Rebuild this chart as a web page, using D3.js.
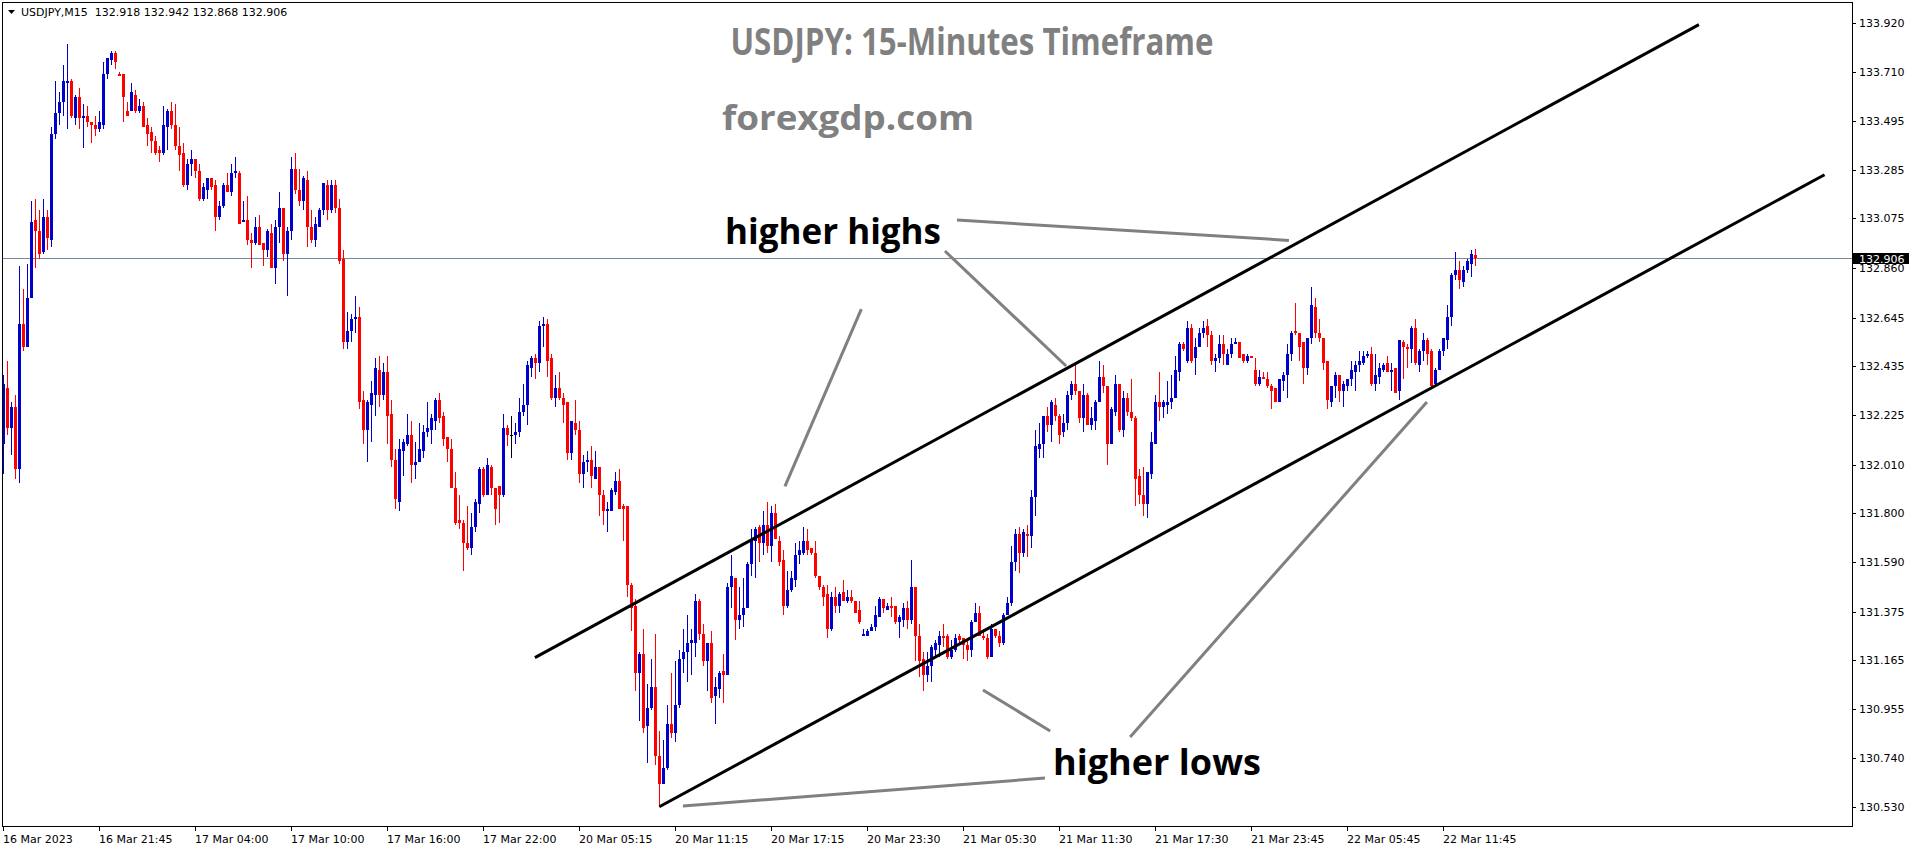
<!DOCTYPE html>
<html><head><meta charset="utf-8">
<script src="https://cdn.jsdelivr.net/npm/d3@7/dist/d3.min.js"></script>
<style>html,body{margin:0;padding:0;background:#fff;overflow:hidden}</style>
</head><body>
<svg id="chart" width="1916" height="850"></svg>
<script>
// ---------- DATA (USDJPY M15) ----------
const opens = [132.10,132.34,132.17,132.26,131.99,132.62,132.52,132.73,133.07,133.02,132.93,133.08,132.98,133.44,133.53,133.58,133.66,133.67,133.51,133.60,
133.51,133.52,133.49,133.48,133.46,133.48,133.70,133.76,133.79,133.70,133.70,133.54,133.54,133.61,133.54,133.56,133.48,133.45,133.41,133.37,
133.36,133.47,133.54,133.48,133.39,133.36,133.22,133.31,133.33,133.28,133.16,133.20,133.25,133.22,133.08,133.13,133.22,133.19,133.27,133.27,
133.06,133.07,132.98,132.97,133.04,132.97,132.94,133.01,132.86,133.04,133.12,132.92,133.02,133.29,133.20,133.15,133.24,133.04,132.98,133.04,
133.11,133.22,133.11,133.22,133.12,132.90,132.54,132.59,132.64,132.65,132.29,132.16,132.27,132.31,132.42,132.31,132.41,132.23,132.03,131.85,
132.07,132.10,132.14,132.01,132.02,132.07,132.15,132.16,132.20,132.29,132.22,132.13,132.08,131.91,131.77,131.76,131.67,131.65,131.74,131.84,
131.99,131.88,132.00,131.91,131.92,131.88,132.17,132.14,132.14,132.15,132.24,132.27,132.43,132.47,132.45,132.61,132.62,132.47,132.30,132.34,
132.30,132.28,132.06,132.19,132.16,131.97,132.02,132.03,131.95,132.00,131.88,131.81,131.81,131.89,131.94,131.83,131.83,131.49,131.40,131.11,
131.19,130.88,130.96,131.05,130.75,130.63,130.70,130.89,130.85,130.97,131.17,131.20,131.24,131.24,131.42,131.28,131.16,131.24,131.01,131.04,
131.12,131.10,131.48,131.52,131.34,131.36,131.39,131.58,131.68,131.74,131.67,131.75,131.66,131.80,131.68,131.60,131.40,131.47,131.51,131.62,
131.63,131.68,131.65,131.63,131.53,131.48,131.45,131.30,131.44,131.40,131.46,131.42,131.44,131.42,131.38,131.27,131.27,131.29,131.31,131.35,
131.43,131.38,131.40,131.40,131.33,131.34,131.39,131.34,131.48,131.27,131.17,131.10,131.14,131.21,131.23,131.27,131.27,131.18,131.21,131.27,
131.26,131.23,131.21,131.33,131.37,131.27,131.26,131.18,131.30,131.27,131.24,131.36,131.41,131.59,131.71,131.63,131.71,131.70,131.87,132.08,
132.10,132.22,132.18,132.27,132.22,132.15,132.19,132.31,132.36,132.33,132.21,132.31,132.18,132.20,132.28,132.39,132.35,132.10,132.24,132.36,
132.16,132.30,132.24,132.21,131.96,131.88,131.84,131.97,132.10,132.28,132.26,132.27,132.28,132.30,132.41,132.53,132.46,132.60,132.47,132.52,
132.58,132.61,132.57,132.46,132.47,132.53,132.44,132.49,132.53,132.54,132.49,132.46,132.48,132.42,132.36,132.39,132.38,132.35,132.34,132.28,
132.37,132.40,132.49,132.59,132.58,132.54,132.43,132.56,132.69,132.58,132.56,132.46,132.28,132.35,132.40,132.33,132.35,132.38,132.41,132.44,
132.45,132.48,132.49,132.36,132.39,132.42,132.45,132.41,132.43,132.33,132.54,132.52,132.51,132.60,132.44,132.50,132.55,132.50,132.36,132.42,
132.50,132.55,132.65,132.83,132.85,132.80,132.85,132.88,132.918];
const highs = [132.40,132.46,132.28,132.31,132.87,132.77,132.88,133.15,133.16,133.11,133.16,133.11,133.47,133.67,133.62,133.74,133.83,133.68,133.61,133.64,
133.57,133.56,133.49,133.52,133.54,133.75,133.77,133.80,133.80,133.71,133.70,133.58,133.66,133.63,133.59,133.58,133.51,133.47,133.43,133.39,
133.56,133.55,133.58,133.57,133.47,133.40,133.33,133.37,133.33,133.31,133.23,133.25,133.25,133.24,133.15,133.23,133.27,133.31,133.34,133.28,
133.15,133.17,133.01,133.08,133.09,132.97,133.03,133.05,133.07,133.19,133.12,133.04,133.34,133.36,133.29,133.26,133.28,133.11,133.08,133.12,
133.23,133.24,133.24,133.24,133.16,132.94,132.67,132.66,132.74,132.69,132.33,132.29,132.37,132.47,132.48,132.45,132.48,132.29,132.08,132.12,
132.12,132.23,132.20,132.11,132.19,132.18,132.28,132.23,132.30,132.32,132.24,132.13,132.12,131.98,131.88,131.77,131.83,131.80,131.86,132.00,
132.00,132.04,132.01,131.91,131.92,132.23,132.18,132.22,132.19,132.30,132.36,132.46,132.48,132.49,132.63,132.65,132.64,132.49,132.40,132.41,
132.32,132.28,132.20,132.29,132.20,132.05,132.07,132.09,132.07,132.00,131.90,131.85,131.91,131.98,131.99,131.84,131.83,131.50,131.43,131.20,
131.30,131.06,131.17,131.28,130.86,130.82,130.97,131.11,131.16,131.21,131.30,131.36,131.30,131.45,131.43,131.32,131.24,131.29,131.09,131.12,
131.19,131.50,131.62,131.52,131.48,131.52,131.59,131.73,131.74,131.75,131.81,131.85,131.83,131.84,131.70,131.64,131.55,131.55,131.67,131.68,
131.74,131.73,131.65,131.68,131.53,131.49,131.49,131.46,131.48,131.46,131.51,131.47,131.47,131.42,131.42,131.30,131.30,131.32,131.40,131.44,
131.43,131.41,131.44,131.40,131.36,131.41,131.42,131.60,131.48,131.32,131.20,131.20,131.23,131.25,131.29,131.32,131.28,131.25,131.28,131.28,
131.26,131.25,131.34,131.41,131.40,131.30,131.28,131.32,131.30,131.29,131.37,131.44,131.66,131.73,131.74,131.73,131.75,131.90,132.16,132.19,
132.22,132.26,132.29,132.30,132.23,132.23,132.33,132.37,132.44,132.33,132.36,132.32,132.26,132.29,132.46,132.44,132.35,132.26,132.40,132.36,
132.33,132.32,132.38,132.22,131.99,132.00,131.98,132.15,132.31,132.41,132.29,132.37,132.40,132.48,132.54,132.54,132.63,132.62,132.56,132.60,
132.63,132.64,132.59,132.49,132.57,132.57,132.51,132.56,132.56,132.54,132.49,132.49,132.48,132.47,132.42,132.41,132.41,132.36,132.34,132.38,
132.41,132.53,132.59,132.71,132.58,132.54,132.56,132.78,132.73,132.64,132.56,132.46,132.35,132.41,132.40,132.37,132.38,132.46,132.46,132.50,
132.50,132.50,132.52,132.49,132.45,132.45,132.48,132.45,132.43,132.55,132.55,132.53,132.61,132.64,132.51,132.58,132.56,132.51,132.43,132.51,
132.56,132.70,132.84,132.93,132.89,132.87,132.90,132.94,132.942];
const lows = [131.97,132.14,132.05,131.95,131.93,132.50,132.52,132.73,132.86,132.90,132.92,132.94,132.95,133.42,133.48,133.52,133.46,133.51,133.48,133.46,
133.38,133.47,133.40,133.43,133.45,133.46,133.68,133.74,133.72,133.69,133.49,133.52,133.54,133.53,133.53,133.47,133.39,133.36,133.35,133.32,
133.35,133.37,133.46,133.37,133.28,133.21,133.20,133.26,133.25,133.15,133.15,133.16,133.20,133.02,133.07,133.12,133.19,133.17,133.25,133.05,
133.06,132.96,132.86,132.96,132.96,132.87,132.91,132.86,132.79,132.97,132.89,132.74,132.98,133.18,133.13,133.11,132.95,132.97,132.95,133.04,
133.09,133.07,133.10,133.10,132.88,132.51,132.51,132.54,132.58,132.25,132.10,132.02,132.11,132.22,132.26,132.29,132.10,132.00,131.82,131.81,
131.96,132.09,131.93,131.95,132.02,132.04,132.13,132.10,132.16,132.19,132.09,132.02,131.91,131.75,131.73,131.55,131.64,131.62,131.72,131.80,
131.87,131.88,131.88,131.75,131.76,131.87,132.09,132.04,132.10,132.13,132.22,132.18,132.39,132.38,132.41,132.52,132.39,132.29,132.26,132.29,
132.19,132.03,132.03,132.14,131.93,131.91,131.98,131.91,131.95,131.79,131.75,131.72,131.81,131.88,131.82,131.68,131.44,131.29,131.03,130.90,
130.85,130.72,130.95,130.71,130.53,130.63,130.69,130.83,130.81,130.96,131.11,131.07,131.10,131.18,131.25,131.14,131.03,130.98,130.89,131.00,
130.98,131.10,131.39,131.25,131.30,131.31,131.39,131.53,131.52,131.59,131.62,131.63,131.59,131.69,131.57,131.36,131.39,131.46,131.48,131.58,
131.62,131.62,131.62,131.52,131.47,131.40,131.26,131.29,131.37,131.37,131.42,131.41,131.41,131.37,131.32,131.27,131.27,131.29,131.29,131.35,
131.37,131.38,131.35,131.32,131.26,131.31,131.30,131.32,131.16,131.09,131.03,131.07,131.07,131.18,131.18,131.22,131.17,131.17,131.20,131.24,
131.17,131.16,131.18,131.33,131.27,131.25,131.17,131.18,131.26,131.22,131.23,131.36,131.40,131.55,131.54,131.61,131.61,131.65,131.79,132.04,
132.04,132.15,132.11,132.20,132.10,132.13,132.16,132.29,132.31,132.19,132.15,132.18,132.16,132.16,132.28,132.32,132.01,132.10,132.22,132.15,
132.13,132.22,132.20,131.83,131.84,131.79,131.78,131.95,132.10,132.20,132.21,132.23,132.25,132.30,132.37,132.50,132.45,132.45,132.40,132.52,
132.56,132.52,132.44,132.41,132.45,132.44,132.44,132.47,132.53,132.47,132.45,132.45,132.47,132.35,132.35,132.38,132.34,132.25,132.28,132.28,
132.33,132.30,132.46,132.57,132.46,132.36,132.40,132.53,132.56,132.54,132.42,132.25,132.26,132.30,132.28,132.26,132.33,132.35,132.33,132.41,
132.44,132.47,132.35,132.33,132.36,132.41,132.41,132.33,132.32,132.29,132.38,132.43,132.45,132.44,132.41,132.46,132.44,132.34,132.35,132.42,
132.48,132.51,132.61,132.81,132.77,132.78,132.84,132.82,132.868];
const closes = [132.36,132.17,132.26,131.99,132.62,132.52,132.73,133.06,133.02,132.92,133.08,132.99,133.44,133.53,133.58,133.67,133.67,133.52,133.60,133.51,
133.52,133.49,133.48,133.46,133.49,133.70,133.77,133.79,133.75,133.69,133.60,133.52,133.62,133.54,133.56,133.47,133.44,133.41,133.36,133.36,
133.48,133.54,133.48,133.39,133.35,133.22,133.31,133.33,133.28,133.16,133.21,133.25,133.21,133.08,133.13,133.22,133.19,133.27,133.28,133.05,
133.07,132.98,132.97,133.04,132.96,132.94,133.02,132.86,133.04,133.12,132.92,133.02,133.29,133.20,133.15,133.25,133.04,132.98,133.05,133.11,
133.23,133.11,133.22,133.12,132.89,132.54,132.59,132.64,132.65,132.28,132.16,132.28,132.32,132.43,132.31,132.41,132.22,132.03,131.86,132.08,
132.11,132.14,132.01,132.02,132.08,132.15,132.17,132.21,132.29,132.21,132.12,132.08,131.91,131.76,131.76,131.67,131.65,131.74,131.85,131.99,
131.88,132.01,131.91,131.82,131.88,132.17,132.14,132.14,132.15,132.24,132.27,132.44,132.47,132.45,132.61,132.62,132.46,132.30,132.34,132.30,
132.27,132.06,132.20,132.16,131.97,132.02,132.03,131.96,132.00,131.88,131.81,131.82,131.90,131.94,131.82,131.82,131.49,131.39,131.11,131.19,
130.87,130.96,131.05,130.75,130.63,130.70,130.89,130.85,130.97,131.17,131.20,131.24,131.25,131.42,131.28,131.16,131.24,131.00,131.05,131.11,
131.10,131.48,131.53,131.34,131.36,131.39,131.58,131.69,131.73,131.67,131.75,131.66,131.80,131.69,131.59,131.40,131.47,131.52,131.62,131.64,
131.68,131.64,131.63,131.53,131.48,131.44,131.30,131.44,131.40,131.45,131.42,131.44,131.42,131.37,131.33,131.28,131.29,131.31,131.36,131.43,
131.39,131.40,131.39,131.33,131.35,131.39,131.34,131.48,131.27,131.16,131.10,131.14,131.22,131.24,131.27,131.26,131.18,131.21,131.26,131.25,
131.23,131.21,131.33,131.37,131.27,131.26,131.18,131.30,131.27,131.24,131.36,131.41,131.59,131.71,131.63,131.72,131.70,131.87,132.09,132.10,
132.22,132.18,132.28,132.22,132.14,132.19,132.31,132.36,132.33,132.21,132.31,132.18,132.21,132.28,132.39,132.35,132.10,132.25,132.36,132.16,
132.30,132.24,132.21,131.95,131.88,131.84,131.98,132.11,132.28,132.26,132.28,132.28,132.30,132.42,132.53,132.51,132.60,132.46,132.52,132.58,
132.60,132.57,132.46,132.47,132.53,132.49,132.49,132.53,132.54,132.47,132.46,132.48,132.47,132.36,132.39,132.38,132.35,132.33,132.28,132.38,
132.40,132.49,132.58,132.58,132.52,132.43,132.56,132.70,132.58,132.56,132.45,132.29,132.35,132.40,132.33,132.36,132.38,132.42,132.44,132.46,
132.48,132.49,132.36,132.40,132.43,132.44,132.41,132.42,132.32,132.55,132.52,132.51,132.60,132.45,132.50,132.55,132.49,132.35,132.42,132.50,
132.56,132.65,132.83,132.85,132.81,132.85,132.89,132.92,132.906];

// time labels every 24 bars
const timeLabels = ["16 Mar 2023","16 Mar 21:45","17 Mar 04:00","17 Mar 10:00","17 Mar 16:00","17 Mar 22:00",
  "20 Mar 05:15","20 Mar 11:15","20 Mar 17:15","20 Mar 23:30","21 Mar 05:30","21 Mar 11:30","21 Mar 17:30",
  "21 Mar 23:45","22 Mar 05:45","22 Mar 11:45"];
const labelStep = 24;
const priceTicks = ["133.920","133.710","133.495","133.285","133.075","132.860","132.645","132.435","132.225",
  "132.010","131.800","131.590","131.375","131.165","130.955","130.740","130.530"];
const lastPrice = 132.906;
const header = "USDJPY,M15  132.918 132.942 132.868 132.906";

// trend lines drawn on the chart: [barIndex1, price1, barIndex2, price2]
const channelLines = [[132.9,131.176,423.9,133.913],[164.0,130.531,455.3,133.264]];
const pointerLines = [[214.5,132.683,195.4,131.916],[235.4,132.934,265.7,132.437],[238.4,133.068,321.4,132.980],
  [169.9,130.534,260.4,130.655],[244.9,131.036,261.7,130.859],[281.7,130.833,355.9,132.281]];

// ---------- DRAWING ----------
const svg = d3.select("#chart");
const W = 1916, H = 850;
const plot = {left:2, right:1852, top:2, bottom:826};

const x = d3.scaleLinear().domain([0, 460]).range([3.33, 1843.33]);
const y = d3.scaleLinear().domain([130.53, 133.92]).range([807, 23]);

svg.append("rect").attr("width",W).attr("height",H).attr("fill","#fff");

// title texts
svg.append("text").attr("x",972).attr("y",55).attr("text-anchor","middle")
  .attr("font-family","Open Sans").attr("font-weight",700).attr("font-size",38)
  .attr("fill","#808080").attr("textLength",483).attr("lengthAdjust","spacingAndGlyphs")
  .text("USDJPY: 15-Minutes Timeframe");
svg.append("text").attr("x",848).attr("y",130).attr("text-anchor","middle")
  .attr("font-family","Open Sans").attr("font-weight",700).attr("font-size",34)
  .attr("fill","#808080").attr("textLength",252).attr("lengthAdjust","spacingAndGlyphs")
  .text("forexgdp.com");

const clip = svg.append("clipPath").attr("id","plotclip").append("rect")
  .attr("x",plot.left).attr("y",plot.top).attr("width",plot.right-plot.left).attr("height",plot.bottom-plot.top);
const pg = svg.append("g").attr("clip-path","url(#plotclip)");

// last price line
pg.append("line").attr("x1",plot.left).attr("x2",plot.right)
  .attr("y1",Math.round(y(lastPrice))+0.5).attr("y2",Math.round(y(lastPrice))+0.5)
  .attr("stroke","#778899").attr("stroke-width",1);

// candles
const idx = d3.range(closes.length);
const colorOf = i => closes[i] > opens[i] ? "#0000CD" : (closes[i] < opens[i] ? "#FF0000" : "#000000");
pg.selectAll("rect.wick").data(idx).join("rect").attr("class","wick")
  .attr("x", i => Math.round(x(i)))
  .attr("width", 1)
  .attr("y", i => Math.round(y(highs[i])))
  .attr("height", i => Math.max(1, Math.round(y(lows[i])) - Math.round(y(highs[i]))))
  .attr("fill", colorOf);
pg.selectAll("rect.body").data(idx).join("rect").attr("class","body")
  .attr("x", i => Math.round(x(i)) - 1)
  .attr("width", 3)
  .attr("y", i => Math.round(y(Math.max(opens[i],closes[i]))))
  .attr("height", i => Math.max(1, Math.round(y(Math.min(opens[i],closes[i]))) - Math.round(y(Math.max(opens[i],closes[i])))))
  .attr("fill", colorOf);

// channel lines
pg.selectAll("line.chan").data(channelLines).join("line").attr("class","chan")
  .attr("x1", d => x(d[0])).attr("y1", d => y(d[1]))
  .attr("x2", d => x(d[2])).attr("y2", d => y(d[3]))
  .attr("stroke","#000").attr("stroke-width",3);
pg.selectAll("line.ptr").data(pointerLines).join("line").attr("class","ptr")
  .attr("x1", d => x(d[0])).attr("y1", d => y(d[1]))
  .attr("x2", d => x(d[2])).attr("y2", d => y(d[3]))
  .attr("stroke","#808080").attr("stroke-width",3);

// annotation texts
svg.append("text").attr("x",725).attr("y",244)
  .attr("font-family","Open Sans").attr("font-weight",700).attr("font-size",35)
  .attr("fill","#000").attr("textLength",216).attr("lengthAdjust","spacingAndGlyphs")
  .text("higher highs");
svg.append("text").attr("x",1053).attr("y",775)
  .attr("font-family","Open Sans").attr("font-weight",700).attr("font-size",35)
  .attr("fill","#000").attr("textLength",208).attr("lengthAdjust","spacingAndGlyphs")
  .text("higher lows");

// frame
svg.append("rect").attr("x",plot.left+0.5).attr("y",plot.top+0.5)
  .attr("width",plot.right-plot.left).attr("height",plot.bottom-plot.top)
  .attr("fill","none").attr("stroke","#000").attr("stroke-width",1);

// header
svg.append("path").attr("d","M8,10 L15,10 L11.5,14 Z").attr("fill","#000");
svg.append("text").attr("x",21).attr("y",16).attr("font-family","DejaVu Sans").attr("font-size",11)
  .attr("fill","#000").attr("xml:space","preserve").style("white-space","pre").text(header);

// price axis
const ya = svg.append("g").attr("font-family","DejaVu Sans").attr("font-size",11);
priceTicks.forEach(t => {
  const yy = Math.round(y(+t));
  ya.append("line").attr("x1",plot.right).attr("x2",plot.right+4).attr("y1",yy+0.5).attr("y2",yy+0.5).attr("stroke","#000");
  ya.append("text").attr("x",plot.right+7).attr("y",yy+4).attr("fill","#000").text(t);
});
// last price label (drawn over the neighbouring tick label, as in the terminal)
const ly = Math.round(y(lastPrice));
ya.append("rect").attr("x",plot.right+1).attr("y",ly-5).attr("width",56).attr("height",11).attr("fill","#000");
ya.append("text").attr("x",plot.right+7).attr("y",ly+5).attr("fill","#fff").text(lastPrice.toFixed(3));

// time axis
const xa = svg.append("g").attr("font-family","DejaVu Sans").attr("font-size",11);
timeLabels.forEach((t,k) => {
  const xx = Math.round(x(k*labelStep));
  xa.append("line").attr("x1",xx+0.5).attr("x2",xx+0.5).attr("y1",plot.bottom).attr("y2",plot.bottom+5).attr("stroke","#000");
  xa.append("text").attr("x",xx).attr("y",843).attr("fill","#000").text(t);
});
</script>
</body></html>
